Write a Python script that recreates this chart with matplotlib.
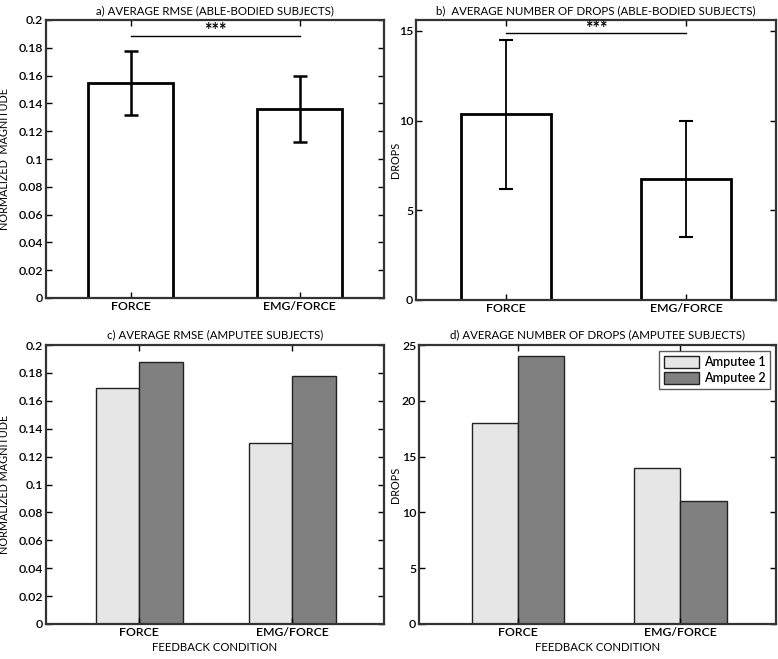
import numpy as np
import matplotlib.pyplot as plt

plt.rcParams['font.family'] = ['Lato', 'DejaVu Sans']
plt.rcParams['font.weight'] = 'semibold'

conditions = ['FORCE', 'EMG/FORCE']

# able-bodied subjects
rmse_mean = [0.155, 0.136]
rmse_err = [0.023, 0.024]
drops_mean = [10.35, 6.75]
drops_err = [4.15, 3.25]

# amputee subjects
amp_names = ['Amputee 1', 'Amputee 2']
amp_rmse_1 = [0.169, 0.130]
amp_rmse_2 = [0.188, 0.178]
amp_drops_1 = [18, 14]
amp_drops_2 = [24, 11]

rmse_ticks = ['0', '0.02', '0.04', '0.06', '0.08', '0.1', '0.12', '0.14', '0.16', '0.18', '0.2']

light = '#e6e6e6'
dark = '#808080'

fig = plt.figure(figsize=(7.78, 6.59), dpi=100)
W, H = 778., 659.

def make_ax(l, t, r, b):
    return fig.add_axes([l / W, 1 - b / H, (r - l) / W, (b - t) / H])

def style(ax):
    for s in ax.spines.values():
        s.set_linewidth(1.6)
        s.set_color('#333333')
    ax.tick_params(direction='in', right=True, top=True, length=4, width=1,
                   labelsize=8.8, pad=2)

x = np.array([1, 2])

# a)
ax = make_ax(46, 20, 384, 298)
ax.bar(x, rmse_mean, width=0.5, color='white', edgecolor='black', linewidth=2)
ax.errorbar(x, rmse_mean, yerr=rmse_err, fmt='none', ecolor='black', elinewidth=1.8,
            capsize=5, capthick=1.8)
ax.plot([1, 2], [0.1885, 0.1885], color='black', lw=1)
ax.text(1.5, 0.1862, '***', ha='center', va='bottom', fontsize=13, fontweight='bold')
ax.set_xlim(0.5, 2.5)
ax.set_ylim(0, 0.2)
ax.set_yticks(np.arange(0, 0.21, 0.02))
ax.set_yticklabels(rmse_ticks)
ax.set_xticks(x)
ax.set_xticklabels(conditions)
ax.set_ylabel('NORMALIZED  MAGNITUDE', fontsize=7.8)
ax.yaxis.set_label_coords(-0.106, 0.5)
ax.set_title('a) AVERAGE RMSE (ABLE-BODIED SUBJECTS)', fontsize=8.3, pad=4)
style(ax)

# b)
ax = make_ax(416, 20, 776, 300)
ax.bar(x, drops_mean, width=0.5, color='white', edgecolor='black', linewidth=2)
ax.errorbar(x, drops_mean, yerr=drops_err, fmt='none', ecolor='black', elinewidth=1.3,
            capsize=5, capthick=1.5)
ax.plot([1, 2], [14.85, 14.85], color='black', lw=1)
ax.text(1.5, 14.65, '***', ha='center', va='bottom', fontsize=13, fontweight='bold')
ax.set_xlim(0.5, 2.5)
ax.set_ylim(0, 15.6)
ax.set_yticks([0, 5, 10, 15])
ax.set_xticks(x)
ax.set_xticklabels(conditions)
ax.set_ylabel('DROPS', fontsize=7.8)
ax.yaxis.set_label_coords(-0.042, 0.5)
ax.set_title('b)  AVERAGE NUMBER OF DROPS (ABLE-BODIED SUBJECTS)', fontsize=8.3, pad=4)
style(ax)

bw = 0.285

# c)
ax = make_ax(46, 345, 384, 624)
ax.bar(x - bw / 2, amp_rmse_1, width=bw, color=light, edgecolor='#222222', linewidth=1)
ax.bar(x + bw / 2, amp_rmse_2, width=bw, color=dark, edgecolor='#222222', linewidth=1)
ax.set_xlim(0.39, 2.6)
ax.set_ylim(0, 0.2)
ax.set_yticks(np.arange(0, 0.21, 0.02))
ax.set_yticklabels(rmse_ticks)
ax.set_xticks(x)
ax.set_xticklabels(conditions)
ax.set_ylabel('NORMALIZED MAGNITUDE', fontsize=7.8)
ax.yaxis.set_label_coords(-0.106, 0.5)
ax.set_xlabel('FEEDBACK CONDITION', fontsize=8.2, labelpad=3)
ax.set_title('c) AVERAGE RMSE (AMPUTEE SUBJECTS)', fontsize=8.3, pad=5)
style(ax)

# d)
ax = make_ax(419, 345, 776, 624)
ax.bar(x - bw / 2, amp_drops_1, width=bw, color=light, edgecolor='#222222', linewidth=1,
       label=amp_names[0])
ax.bar(x + bw / 2, amp_drops_2, width=bw, color=dark, edgecolor='#222222', linewidth=1,
       label=amp_names[1])
ax.set_xlim(0.39, 2.59)
ax.set_ylim(0, 25)
ax.set_yticks([0, 5, 10, 15, 20, 25])
ax.set_xticks(x)
ax.set_xticklabels(conditions)
ax.set_ylabel('DROPS', fontsize=7.8)
ax.yaxis.set_label_coords(-0.05, 0.5)
ax.set_xlabel('FEEDBACK CONDITION', fontsize=8.2, labelpad=3)
ax.set_title('d) AVERAGE NUMBER OF DROPS (AMPUTEE SUBJECTS)', fontsize=8.3, pad=5)
leg = ax.legend(loc='upper right', fontsize=9, fancybox=False, edgecolor='#333333',
                borderaxespad=0.5, handlelength=2.8, handleheight=1.2, borderpad=0.35,
                labelspacing=0.25, handletextpad=0.4)
leg.get_frame().set_linewidth(1)
style(ax)

fig.savefig('out.png', dpi=100)
